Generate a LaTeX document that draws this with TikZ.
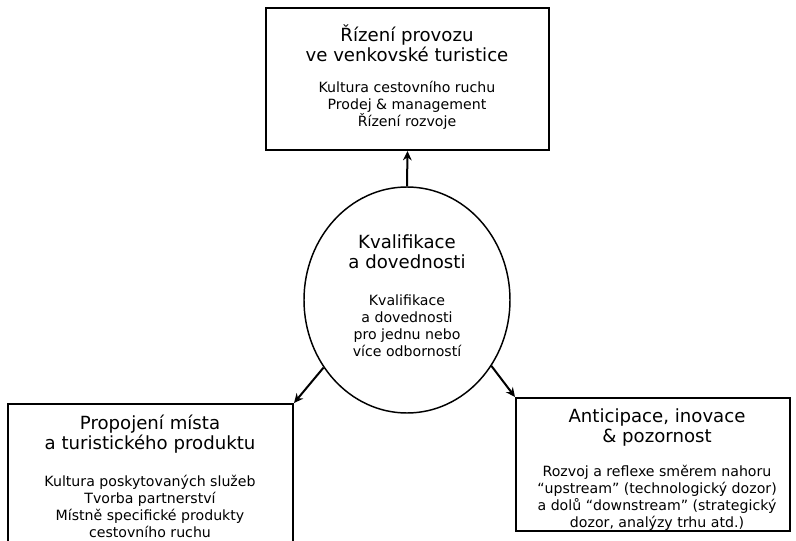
\documentclass[tikz,border=0pt]{standalone}
\usepackage{fontspec}
\setmainfont{DejaVu Sans}
\usetikzlibrary{shapes.geometric,arrows.meta}
\begin{document}
\begin{tikzpicture}[x=0.75pt,y=-0.75pt,
  box/.style={draw, line width=1.5pt, rectangle, inner sep=0pt},
  oval/.style={draw, line width=1.1pt, ellipse, inner sep=0pt},
  ttl/.style={font=\fontsize{13.6}{15}\selectfont, align=center, inner sep=0pt},
  bdy/.style={font=\fontsize{10.6}{12.75}\selectfont, align=center, inner sep=0pt},
  arr/.style={line width=1.5pt, -{Stealth[length=7pt,width=6.5pt]}}]
\useasboundingbox (0,0) rectangle (796,541);
\clip (0,0) rectangle (796,541);
% shapes
\node[box, minimum width=212.25pt, minimum height=106.5pt] (T) at (407.5,79) {};
\node[box, minimum width=213.75pt, minimum height=124.5pt] (L) at (150.5,487) {};
\node[box, minimum width=205.5pt, minimum height=99.75pt] (R) at (653,464.5) {};
\node[oval, minimum width=154.5pt, minimum height=169.5pt] (K) at (407,300) {};
% texts
\node[ttl] (Tt) at (407,43) {Řízení provozu\\ve venkovské turistice};
\node[bdy] (Tb) at (407,105) {Kultura cestovního ruchu\\Prodej \& management\\Řízení rozvoje};
\node[ttl] (Kt) at (407,252) {Kvalifikace\\a dovednosti};
\node[bdy] (Kb) at (407,326) {Kvalifikace\\a dovednosti\\pro jednu nebo\\více odborností};
\node[ttl] (Lt) at (150,434) {Propojení místa\\a turistického produktu};
\node[bdy] (Lb) at (150,506) {Kultura poskytovaných služeb\\Tvorba partnerství\\Místně specifické produkty\\cestovního ruchu};
\node[ttl] (Rt) at (657,427) {Anticipace, inovace\\\& pozornost};
\node[bdy] (Rb) at (657,498) {Rozvoj a reflexe směrem nahoru\\“upstream” (technologický dozor)\\a dolů “downstream” (strategický\\dozor, analýzy trhu atd.)};
% connectors
\draw[arr] (K.north) -- (T.south);
\draw[arr] (K.219) -- (L.north east);
\draw[arr] (K.-38) -- (R.north west);
\end{tikzpicture}
\end{document}
